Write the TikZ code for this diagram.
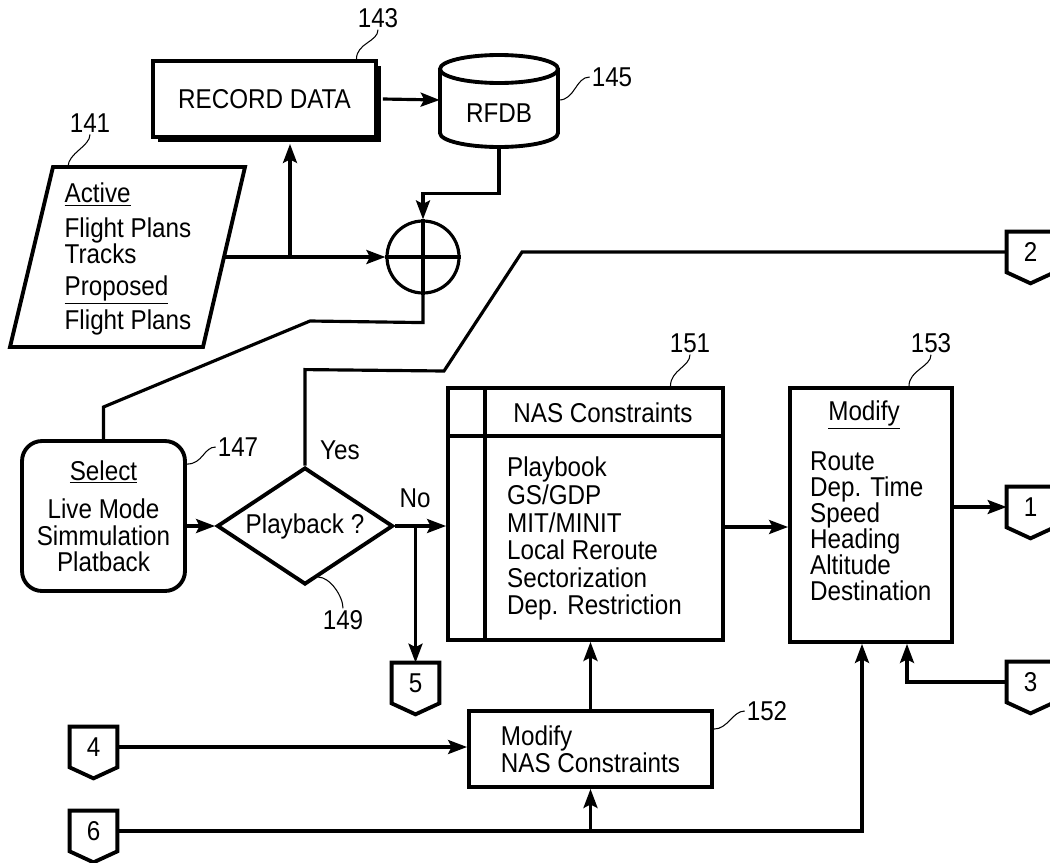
\documentclass[tikz,border=0pt]{standalone}
\usepackage{fontspec}
\setmainfont{Liberation Sans}[FakeStretch=0.89]
\usetikzlibrary{arrows.meta,positioning,calc,shapes.geometric}

% off-page connector: name, x, y, number
\newcommand{\offpage}[4]{%
  \node[conn] (#1) at (#2,#3) {#4};
  \draw[box] (#1.north west) -- (#1.north east) -- (#1.south east) -- ([yshift=-0.22cm]#1.south) -- (#1.south west) -- cycle;
}

\begin{document}
\begin{tikzpicture}[
    x=0.02cm, y=-0.02cm,
    every node/.style={font=\fontsize{15.5}{15}\selectfont, inner sep=1pt},
    box/.style={draw, line width=2.2pt},
    line/.style={line width=1.8pt},
    arr/.style={line width=1.8pt, -{Stealth[length=0.38cm,width=0.28cm,inset=0.07cm]}},
    lead/.style={line width=0.6pt},
    conn/.style={minimum width=0.94cm, minimum height=0.8cm, inner sep=0pt},
]
\clip (0,0) rectangle (1050,862);

% input data and recording
\draw[box] (53,167) -- (245,167) -- (203,347) -- (10,347) -- cycle;
\node[align=left] (par) at (128,259) {\underline{Active}\\[5pt]Flight Plans\\Tracks\\[3pt]\underline{Proposed}\\[2pt]Flight Plans};
\coordinate (pr) at (224,257);
\coordinate (br) at (290,257);

\fill (158,66) rectangle (381,142);
\node[box, fill=white, minimum width=4.46cm, minimum height=1.52cm] (rec) at (264.5,99) {RECORD DATA};

\node[minimum width=2.36cm, minimum height=1.84cm] (db) at (499,100) {};
\draw[box] (440,69) -- (440,133) arc[start angle=180, end angle=360, x radius=1.18cm, y radius=0.28cm] -- (558,69);
\draw[box] (499,69) ellipse[x radius=1.18cm, y radius=0.28cm];
\node (rfdb) at (499,113) {RFDB};

\node[circle, draw, line width=1.8pt, minimum size=1.44cm, inner sep=0pt] (sum) at (423,257) {};
\draw[line] (sum.north) -- (sum.south) (sum.west) -- (sum.east);

% mode selection
\node[box, rounded corners=0.4cm, minimum width=3.26cm, minimum height=3.0cm, align=center] (sel) at (103.5,516) {\underline{Select}\\[7pt]Live Mode\\Simmulation\\Platback};
\node[box, diamond, aspect=1.5, minimum width=3.52cm, minimum height=2.34cm, inner sep=0pt] (dia) at (305,526) {Playback ?};
\node (yes) at (340,450) {Yes};
\node (no) at (415,498) {No};

% constraints and modifications
\node[box, minimum width=5.5cm, minimum height=5.04cm] (nas) at (585.5,514) {};
\draw[box] ([xshift=0.78cm]nas.north west) -- ([xshift=0.78cm]nas.south west);
\draw[box] ([yshift=-1.0cm]nas.north west) -- ([yshift=-1.0cm]nas.north east);
\node (nashead) at (603,413) {NAS Constraints};
\node[align=left, anchor=north west, font=\fontsize{15.5}{15.7}\selectfont] (naslist) at (505,455) {Playbook\\GS/GDP\\MIT/MINIT\\Local Reroute\\Sectorization\\Dep. Restriction};

\node[box, minimum width=3.24cm, minimum height=5.08cm] (mod) at (871,515) {};
\node (modhead) at (864,415) {\underline{Modify}};
\node[align=left, anchor=north west, font=\fontsize{15.5}{14.8}\selectfont] (modlist) at (808,450) {Route\\Dep. Time\\Speed\\Heading\\Altitude\\Destination};

\node[box, minimum width=4.86cm, minimum height=1.52cm, align=left, font=\fontsize{15.5}{14.2}\selectfont] (mnas) at (590.5,749) {Modify\\NAS Constraints};

% off-page connectors
\offpage{c1}{1030.5}{507}{1}
\offpage{c2}{1030.5}{252}{2}
\offpage{c3}{1030.5}{682}{3}
\offpage{c4}{93.5}{747}{4}
\offpage{c5}{415.5}{683}{5}
\offpage{c6}{93.5}{831}{6}

% flow
\draw[arr] ([xshift=0.1cm]rec.east) -- (db.west);
\draw[arr] (pr) -- (sum.west);
\draw[arr] (br) -- ([yshift=-0.1cm]br |- rec.south);
\draw[arr] (db.south) -- ++(0,47) -| (sum.north);
\draw[line] (sum.south) -- ++(0,28) -- (310,321) -- (103.5,407) -- (sel.north);
\draw[arr] (sel.east |- dia.west) -- (dia.west);
\draw[line] (dia.north) -- ++(0,-96) -- (444,371) -- (522,252) -- (c2.west);
\draw[arr] (dia.east) -- (dia.east -| nas.west);
\draw[arr] (dia.east -| c5.north) -- (c5.north);
\draw[arr] ([yshift=-0.26cm]nas.east) -- ([yshift=-0.26cm]nas.east -| mod.west);
\draw[arr] (mod.east |- c1.west) -- (c1.west);
\draw[arr] (c3.west) -| ([xshift=0.72cm]mod.south);
\draw[arr] (c4.east) -- (c4.east -| mnas.west);
\draw[arr] (c6.east) -| ([xshift=-0.18cm]mod.south);
\draw[arr] (c6.east -| mnas.south) -- (mnas.south);
\draw[arr] (mnas.north) -- (mnas.north |- nas.south);

% reference numerals
\node (l141) at (90,123) {141};
\node (l143) at (378,18) {143};
\node (l145) at (612,77) {145};
\node (l147) at (238,447) {147};
\node (l149) at (343,620) {149};
\node (l151) at (690,343) {151};
\node (l152) at (767,711) {152};
\node (l153) at (931,343) {153};
\draw[lead] (68,167) .. controls +(0,-14) and +(0,12) .. (l141.south);
\draw[lead] ([xshift=1.84cm]rec.north) .. controls +(0,-16) and +(0,12) .. (l143.south);
\draw[lead] (559,100) .. controls +(16,0) and +(-14,0) .. (l145.west);
\draw[lead] ([yshift=-0.5cm]sel.north east) .. controls +(16,0) and +(-12,0) .. (l147.west);
\draw[lead] (318,577) .. controls +(12,0) and +(0,-12) .. (l149.north);
\draw[lead] ([xshift=1.7cm]nas.north) .. controls +(0,-16) and +(0,12) .. (l151.south);
\draw[lead] ([yshift=-0.4cm]mnas.north east) .. controls +(14,0) and +(-12,0) .. (l152.west);
\draw[lead] ([xshift=0.76cm]mod.north) .. controls +(0,-16) and +(0,12) .. (l153.south);
\end{tikzpicture}
\end{document}
